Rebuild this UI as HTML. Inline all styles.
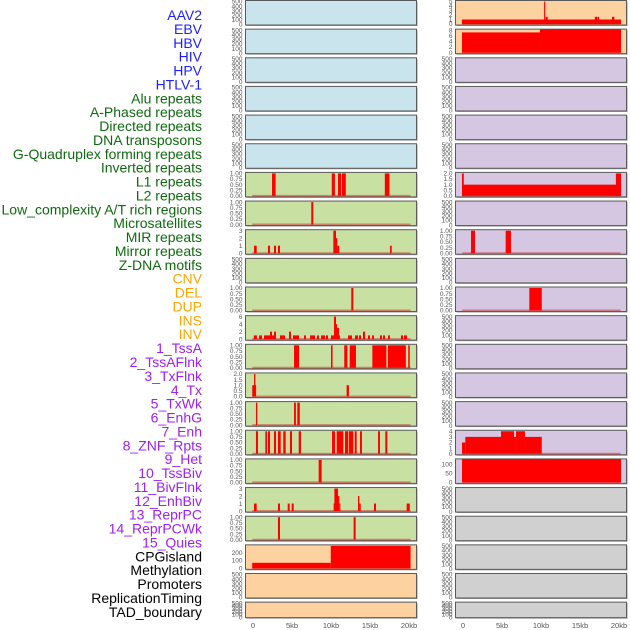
<!DOCTYPE html>
<html><head><meta charset="utf-8"><style>
html,body{margin:0;padding:0;background:#fff;width:630px;height:630px;overflow:hidden}
svg{display:block}
</style></head><body>
<svg id="chart" width="630" height="630" xmlns="http://www.w3.org/2000/svg" font-family="Liberation Sans, sans-serif"></svg>
<script>
// ---- data ----
const trackLabels = ["AAV2","EBV","HBV","HIV","HPV","HTLV-1","Alu repeats","A-Phased repeats","Directed repeats","DNA transposons","G-Quadruplex forming repeats","Inverted repeats","L1 repeats","L2 repeats","Low_complexity A/T rich regions","Microsatellites","MIR repeats","Mirror repeats","Z-DNA motifs","CNV","DEL","DUP","INS","INV","1_TssA","2_TssAFlnk","3_TxFlnk","4_Tx","5_TxWk","6_EnhG","7_Enh","8_ZNF_Rpts","9_Het","10_TssBiv","11_BivFlnk","12_EnhBiv","13_ReprPC","14_ReprPCWk","15_Quies","CPGisland","Methylation","Promoters","ReplicationTiming","TAD_boundary"];
const labelGroups = ["virus","virus","virus","virus","virus","virus","rep","rep","rep","rep","rep","rep","rep","rep","rep","rep","rep","rep","rep","sv","sv","sv","sv","sv","hmm","hmm","hmm","hmm","hmm","hmm","hmm","hmm","hmm","hmm","hmm","hmm","hmm","hmm","hmm","oth","oth","oth","oth","oth"];
const xTickValues = [0,5,10,15,20];
const xTickLabels = ["0","5kb","10kb","15kb","20kb"];
const emptyTicks = [0,100,200,300,400,500];
const unitTicks = [0,0.25,0.5,0.75,1];
const unitTickLabels = ["0.00","0.25","0.50","0.75","1.00"];

// bars: [startKb, endKb, value]
const aluBars = [[2.44,2.9,1],[10.1,10.5,1],[10.9,11.3,1],[11.4,11.9,1],[16.9,17.5,1]];
const aphasedBars = [[7.47,7.73,1]];
const directedBars = [[0.13,0.47,1],[1.92,2.18,1],[2.69,2.95,1],[3.2,3.46,1],[10.3,10.64,3],[10.64,10.81,2],[10.81,11.06,1],[17.56,17.78,1]];
const gquadBars = [[12.6,12.86,1]];
const invertedBars = [[0.1,0.5,1],[0.77,1.15,1],[1.41,2.18,1],[2.18,2.44,2],[2.44,2.69,1],[2.69,2.95,2],[3.46,4.1,1],[4.62,4.87,2],[5.13,5.9,1],[6.54,6.79,1],[7.31,7.95,1],[8.2,8.46,1],[8.72,9.23,1],[9.36,9.62,1],[10.0,10.38,1],[10.38,10.64,6],[10.64,10.77,4],[10.77,11.03,3],[11.03,11.15,1],[12.18,12.69,1],[13.08,13.46,1],[13.59,13.85,1],[14.1,14.36,2],[14.74,15.0,1],[15.26,15.51,1],[16.28,16.54,1],[16.67,16.92,1],[17.31,17.56,1],[18.97,19.23,1],[19.36,19.74,1]];
const l1Bars = [[5.26,5.9,1],[10.0,10.2,1],[11.7,12.1,1],[12.4,13.2,1],[15.3,17.1,1],[17.3,19.6,1],[19.9,20.1,1]];
const l2Bars = [[-0.1,0.4,1],[0.13,0.3,2],[12.0,12.3,1]];
const lowcBars = [[0.38,0.55,1],[5.26,5.5,1],[5.68,6.0,1]];
const microBars = [[0.38,0.64,1],[1.58,1.79,1],[1.92,2.18,1],[2.69,2.95,1],[3.2,3.55,1],[3.88,4.19,1],[4.74,5.0,1],[5.86,6.15,1],[10.13,10.51,1],[10.73,11.58,1],[11.79,12.22,1],[12.31,12.86,1],[13.04,13.29,1],[13.72,13.97,1],[16.03,16.28,1],[16.96,17.22,1]];
const mirBars = [[8.42,8.8,1]];
const mirrorBars = [[0.13,0.47,1],[3.2,3.46,1],[4.45,4.7,1],[4.96,5.22,1],[10.34,10.43,1],[10.43,10.9,3],[10.9,11.07,2],[11.07,11.2,1],[13.46,13.63,2],[13.63,13.81,1],[15.51,15.77,1],[19.7,20.1,1]];
const zdnaBars = [[3.2,3.46,1],[12.9,13.16,1]];
const cnvBars = [[-0.1,9.97,70],[9.97,20.2,285]];
const insBars = [[-0.13,20.26,1],[10.4,10.55,5],[10.6,10.85,1.6],[16.9,17.2,1.6],[17.25,17.45,1.6],[19.1,19.4,1.6]];
const invBars = [[-0.13,9.87,7.2],[9.87,20.26,8.3]];
const txBars = [[-0.13,20.26,1],[-0.13,0.1,2],[19.6,20.26,2]];
const enhgBars = [[1.03,1.54,1],[5.47,6.15,1]];
const znfBars = [[8.5,10.1,1]];
const bivflnkBars = [[-0.13,0.3,2],[0.3,4.87,3],[4.87,6.54,4],[6.54,6.8,3],[6.8,7.95,4],[7.95,10.1,3]];
const enhbivBars = [[-0.13,20.26,130]];

const BLUE="#c9e4ec",GREEN="#c9e0a3",ORANGE="#fed1a1",PURPLE="#d5c6e2",GREY="#d0d0d0";
// panel specs: [name, column, row, bg, bars, yMax, ticks, tickLabels]
const panels = [
 ["AAV2",0,0,BLUE,null],["EBV",0,1,BLUE,null],["HBV",0,2,BLUE,null],["HIV",0,3,BLUE,null],["HPV",0,4,BLUE,null],["HTLV-1",0,5,BLUE,null],
 ["Alu repeats",0,6,GREEN,aluBars,1,unitTicks,unitTickLabels],
 ["A-Phased repeats",0,7,GREEN,aphasedBars,1,unitTicks,unitTickLabels],
 ["Directed repeats",0,8,GREEN,directedBars,3,[0,1,2,3],["0","1","2","3"]],
 ["DNA transposons",0,9,GREEN,null],
 ["G-Quadruplex forming repeats",0,10,GREEN,gquadBars,1,unitTicks,unitTickLabels],
 ["Inverted repeats",0,11,GREEN,invertedBars,6,[0,2,4,6],["0","2","4","6"]],
 ["L1 repeats",0,12,GREEN,l1Bars,1,unitTicks,unitTickLabels],
 ["L2 repeats",0,13,GREEN,l2Bars,2,[0,0.5,1,1.5,2],["0.0","0.5","1.0","1.5","2.0"]],
 ["Low_complexity A/T rich regions",0,14,GREEN,lowcBars,1,unitTicks,unitTickLabels],
 ["Microsatellites",0,15,GREEN,microBars,1,unitTicks,unitTickLabels],
 ["MIR repeats",0,16,GREEN,mirBars,1,unitTicks,unitTickLabels],
 ["Mirror repeats",0,17,GREEN,mirrorBars,3,[0,1,2,3],["0","1","2","3"]],
 ["Z-DNA motifs",0,18,GREEN,zdnaBars,1,unitTicks,unitTickLabels],
 ["CNV",0,19,ORANGE,cnvBars,285,[0,100,200],["0","100","200"]],
 ["DEL",0,20,ORANGE,null],["DUP",0,21,ORANGE,null],
 ["INS",1,0,ORANGE,insBars,5,[0,1,2,3,4,5],["0","1","2","3","4","5"]],
 ["INV",1,1,ORANGE,invBars,8,[0,2,4,6,8],["0","2","4","6","8"]],
 ["1_TssA",1,2,PURPLE,null],["2_TssAFlnk",1,3,PURPLE,null],["3_TxFlnk",1,4,PURPLE,null],["4_Tx",1,5,PURPLE,null],
 ["5_TxWk",1,6,PURPLE,txBars,2,[0,0.5,1,1.5,2],["0.0","0.5","1.0","1.5","2.0"]],
 ["6_EnhG",1,7,PURPLE,null],
 ["7_Enh",1,8,PURPLE,enhgBars,1,unitTicks,unitTickLabels],
 ["8_ZNF_Rpts",1,9,PURPLE,null],
 ["9_Het",1,10,PURPLE,znfBars,1,unitTicks,unitTickLabels],
 ["10_TssBiv",1,11,PURPLE,null],["11_BivFlnk",1,12,PURPLE,null],["12_EnhBiv",1,13,PURPLE,null],["13_ReprPC",1,14,PURPLE,null],
 ["14_ReprPCWk",1,15,PURPLE,bivflnkBars,4,[0,1,2,3,4],["0","1","2","3","4"]],
 ["15_Quies",1,16,PURPLE,enhbivBars,124,[0,50,100],["0","50","100"]],
 ["CPGisland",1,17,GREY,null],["Methylation",1,18,GREY,null],["Promoters",1,19,GREY,null],["ReplicationTiming",1,20,GREY,null],["TAD_boundary",1,21,GREY,null]
];

// ---- drawing ----
const NS="http://www.w3.org/2000/svg";
const svg=document.getElementById("chart");
function mk(tag,attrs,parent){const e=document.createElementNS(NS,tag);for(const k in attrs)e.setAttribute(k,attrs[k]);(parent||svg).appendChild(e);return e;}
const labelColors={virus:"#1f1fff",rep:"#0f6a0f",sv:"#ffa500",hmm:"#a020f0",oth:"#000"};
trackLabels.forEach((t,i)=>{
  const e=mk("text",{x:202,y:20+i*13.88,"text-anchor":"end","font-size":"14",fill:labelColors[labelGroups[i]]});
  e.textContent=t;
  
  
});
const colX=[245.5,455.5], PW=171, PITCH=28.65;
function xScale(col,kb){return colX[col]+7.5+kb*7.8;}
panels.forEach(p=>{
  const [name,col,row,bg,bars,yMax,ticks,tlabels]=p;
  const top=row*PITCH+0.5, h=(row===21)?15.5:24.5;
  const g=mk("g",{});
  
  
  mk("rect",{x:colX[col]+1,y:top+1,width:PW,height:h,fill:"#9a9a9a"},g);
  mk("rect",{x:colX[col],y:top,width:PW,height:h,fill:bg,stroke:"#5a5a5a","stroke-width":1},g);
  const yS=v=>top+h-1-v/yMax*(h-2);
  if(!bars){
    emptyTicks.forEach(v=>{
      const y=top+h-0.5-v/500*(h-1.5);
      const t=mk("text",{x:colX[col]-3,y:y+2.2,"text-anchor":"end","font-size":"6.5",fill:"#555"},g);
      t.textContent=String(v);
    });
    return;
  }
  ticks.forEach((v,i)=>{
    const t=mk("text",{x:colX[col]-3,y:yS(v)+2.2,"text-anchor":"end","font-size":"6.5",fill:"#555"},g);
    t.textContent=tlabels[i];
  });
  const clipId="c"+col+"_"+row;
  const cp=mk("clipPath",{id:clipId},g);
  mk("rect",{x:colX[col],y:top,width:PW,height:h},cp);
  const bg2=mk("g",{"clip-path":"url(#"+clipId+")"},g);
  mk("line",{x1:xScale(col,-0.1),x2:xScale(col,20.2),y1:yS(0),y2:yS(0),stroke:"rgba(200,40,40,0.5)","stroke-width":2},bg2);
  bars.forEach((b,i)=>{
    const x1=xScale(col,b[0]),x2=xScale(col,b[1]);
    const r=mk("rect",{x:x1,y:yS(b[2]),width:Math.max(1,x2-x1),height:yS(0)-yS(b[2]),fill:"#ff0000"},bg2);
    
    
  });
});
[0,1].forEach(col=>{
  xTickValues.forEach((v,i)=>{
    const t=mk("text",{x:xScale(col,v),y:628,"text-anchor":"middle","font-size":"7.5",fill:"#555"});
    t.textContent=xTickLabels[i];
    
    
  });
});
</script>
</body></html>
